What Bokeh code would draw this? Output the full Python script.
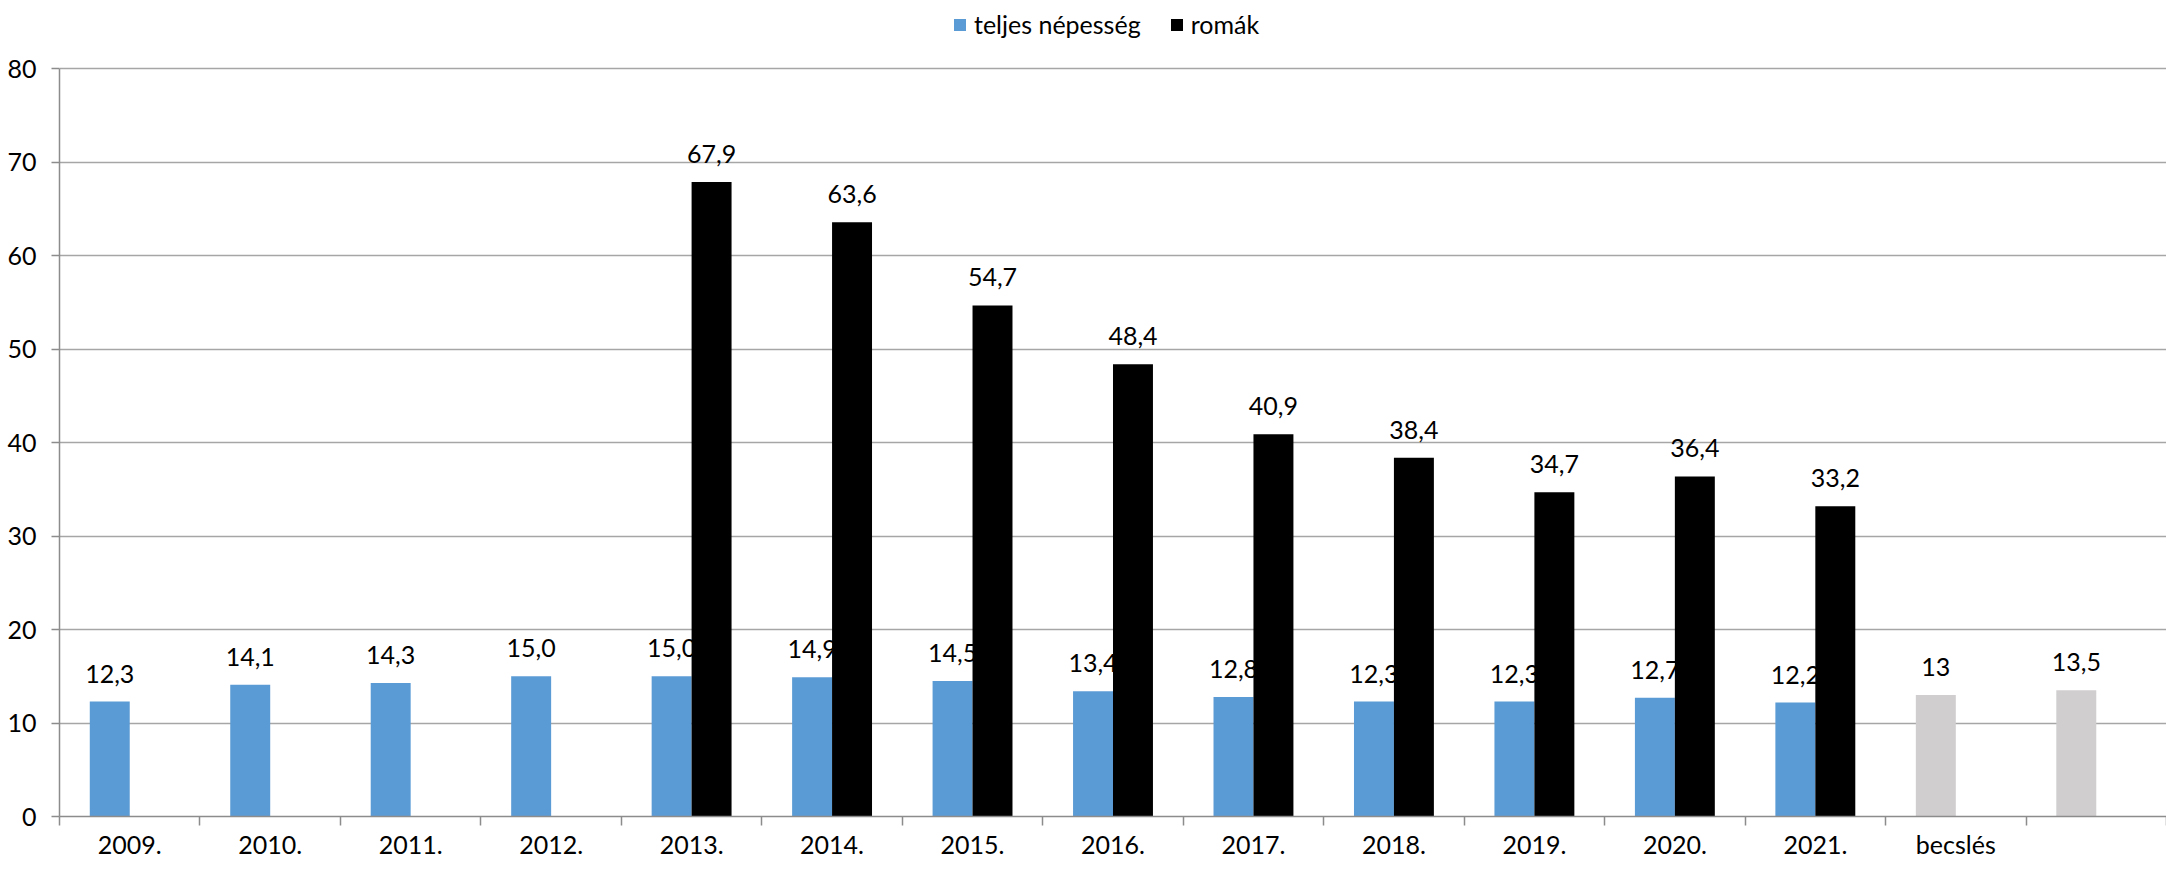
from bokeh.plotting import figure
from bokeh.models import (ColumnDataSource, FixedTicker, Legend, LegendItem,
                          LabelSet, Range1d)
from bokeh.transform import dodge
from bokeh.core.properties import value
from bokeh.embed import file_html
from bokeh.resources import INLINE

# ---------------- data ----------------
categories = ["2009.", "2010.", "2011.", "2012.", "2013.", "2014.", "2015.",
              "2016.", "2017.", "2018.", "2019.", "2020.", "2021.", "becslés", ""]
teljes_years = ["2009.", "2010.", "2011.", "2012.", "2013.", "2014.", "2015.",
                "2016.", "2017.", "2018.", "2019.", "2020.", "2021."]
teljes_values = [12.3, 14.1, 14.3, 15.0, 15.0, 14.9, 14.5, 13.4, 12.8, 12.3,
                 12.3, 12.7, 12.2]
romak_years = ["2013.", "2014.", "2015.", "2016.", "2017.", "2018.", "2019.",
               "2020.", "2021."]
romak_values = [67.9, 63.6, 54.7, 48.4, 40.9, 38.4, 34.7, 36.4, 33.2]
becsles_cats = ["becslés", ""]
becsles_values = [13, 13.5]
y_ticks = [0, 10, 20, 30, 40, 50, 60, 70, 80]

BLUE = "#5B9BD5"
BLACK = "#000000"
GRAY = "#D0CECE"
FONT = "Lato"
FS = "25px"
GRID = "#A6A6A6"
AXIS = "#8C8C8C"


def fmt1(v):
    return f"{v:.1f}".replace(".", ",")


def fmtg(v):
    return ("%g" % v).replace(".", ",")


src_t = ColumnDataSource(dict(x=[categories.index(c) for c in teljes_years],
                              v=teljes_values,
                              lab=[fmt1(v) for v in teljes_values]))
src_r = ColumnDataSource(dict(x=[categories.index(c) for c in romak_years],
                              v=romak_values,
                              lab=[fmt1(v) for v in romak_values]))
src_b = ColumnDataSource(dict(x=[categories.index(c) for c in becsles_cats],
                              v=becsles_values,
                              lab=[fmtg(v) for v in becsles_values]))

n = len(categories)
H = 861
BOTTOM = 39
FRAME_H = H - BOTTOM          # frame spans whole top; value axis ends at 80
PLOT_H = 753                  # pixels between 0 and 80
Y_END = y_ticks[-1] * FRAME_H / PLOT_H

p = figure(width=2166, height=H, output_backend="svg", toolbar_location=None,
           x_range=Range1d(-0.5, n - 0.5), y_range=Range1d(0, Y_END),
           min_border_left=59, min_border_right=0, min_border_top=0,
           min_border_bottom=BOTTOM)
p.outline_line_color = None
p.background_fill_color = "white"
p.border_fill_color = "white"

BW = 0.2845
OFF = 0.1422

r_t = p.vbar(x=dodge("x", -OFF, range=p.x_range), top="v", width=BW,
             source=src_t, fill_color=BLUE, line_color=None)
r_r = p.vbar(x=dodge("x", OFF, range=p.x_range), top="v", width=BW,
             source=src_r, fill_color=BLACK, line_color=None)
r_b = p.vbar(x=dodge("x", -OFF, range=p.x_range), top="v", width=BW,
             source=src_b, fill_color=GRAY, line_color=None)

for src, off in ((src_t, -OFF), (src_r, OFF), (src_b, -OFF)):
    p.add_layout(LabelSet(x=dodge("x", off, range=p.x_range), y="v", text="lab",
                          source=src, y_offset=19, text_align="center",
                          text_baseline="alphabetic", text_font=value(FONT),
                          text_font_size=value(FS), text_color="black"))

# axes
p.xaxis.ticker = FixedTicker(ticks=list(range(n)),
                             minor_ticks=[i - 0.5 for i in range(n + 1)])
p.xaxis.major_label_overrides = {i: c for i, c in enumerate(categories)}
p.xaxis.major_tick_line_color = None
p.xaxis.minor_tick_line_color = AXIS
p.xaxis.minor_tick_line_width = 1.5
p.xaxis.minor_tick_out = 9
p.xaxis.minor_tick_in = 0
p.xaxis.axis_line_color = AXIS
p.xaxis.axis_line_width = 1.5
p.xaxis.major_label_standoff = 3
p.xaxis.major_label_text_font = FONT
p.xaxis.major_label_text_font_size = FS
p.xaxis.major_label_text_color = "black"

p.yaxis.ticker = FixedTicker(ticks=y_ticks)
p.yaxis.bounds = (y_ticks[0], y_ticks[-1])
p.yaxis.minor_tick_line_color = None
p.yaxis.major_tick_line_color = AXIS
p.yaxis.major_tick_line_width = 1.5
p.yaxis.major_tick_out = 8
p.yaxis.major_tick_in = 0
p.yaxis.axis_line_color = AXIS
p.yaxis.axis_line_width = 1.5
p.yaxis.major_label_standoff = 15
p.yaxis.major_label_text_font = FONT
p.yaxis.major_label_text_font_size = FS
p.yaxis.major_label_text_color = "black"

p.xgrid.grid_line_color = None
p.ygrid.grid_line_color = GRID
p.ygrid.grid_line_width = 1.5

legend = Legend(items=[LegendItem(label="teljes népesség", renderers=[r_t]),
                       LegendItem(label="romák", renderers=[r_r])],
                orientation="horizontal", location=(893, FRAME_H - 45),
                glyph_width=15, glyph_height=15, label_standoff=7, spacing=28,
                padding=0, margin=0, border_line_color=None,
                background_fill_alpha=0, label_text_font=FONT,
                label_text_font_size=FS, label_text_color="black")
p.add_layout(legend, "center")

open("out.html", "w").write(file_html(p, INLINE))
